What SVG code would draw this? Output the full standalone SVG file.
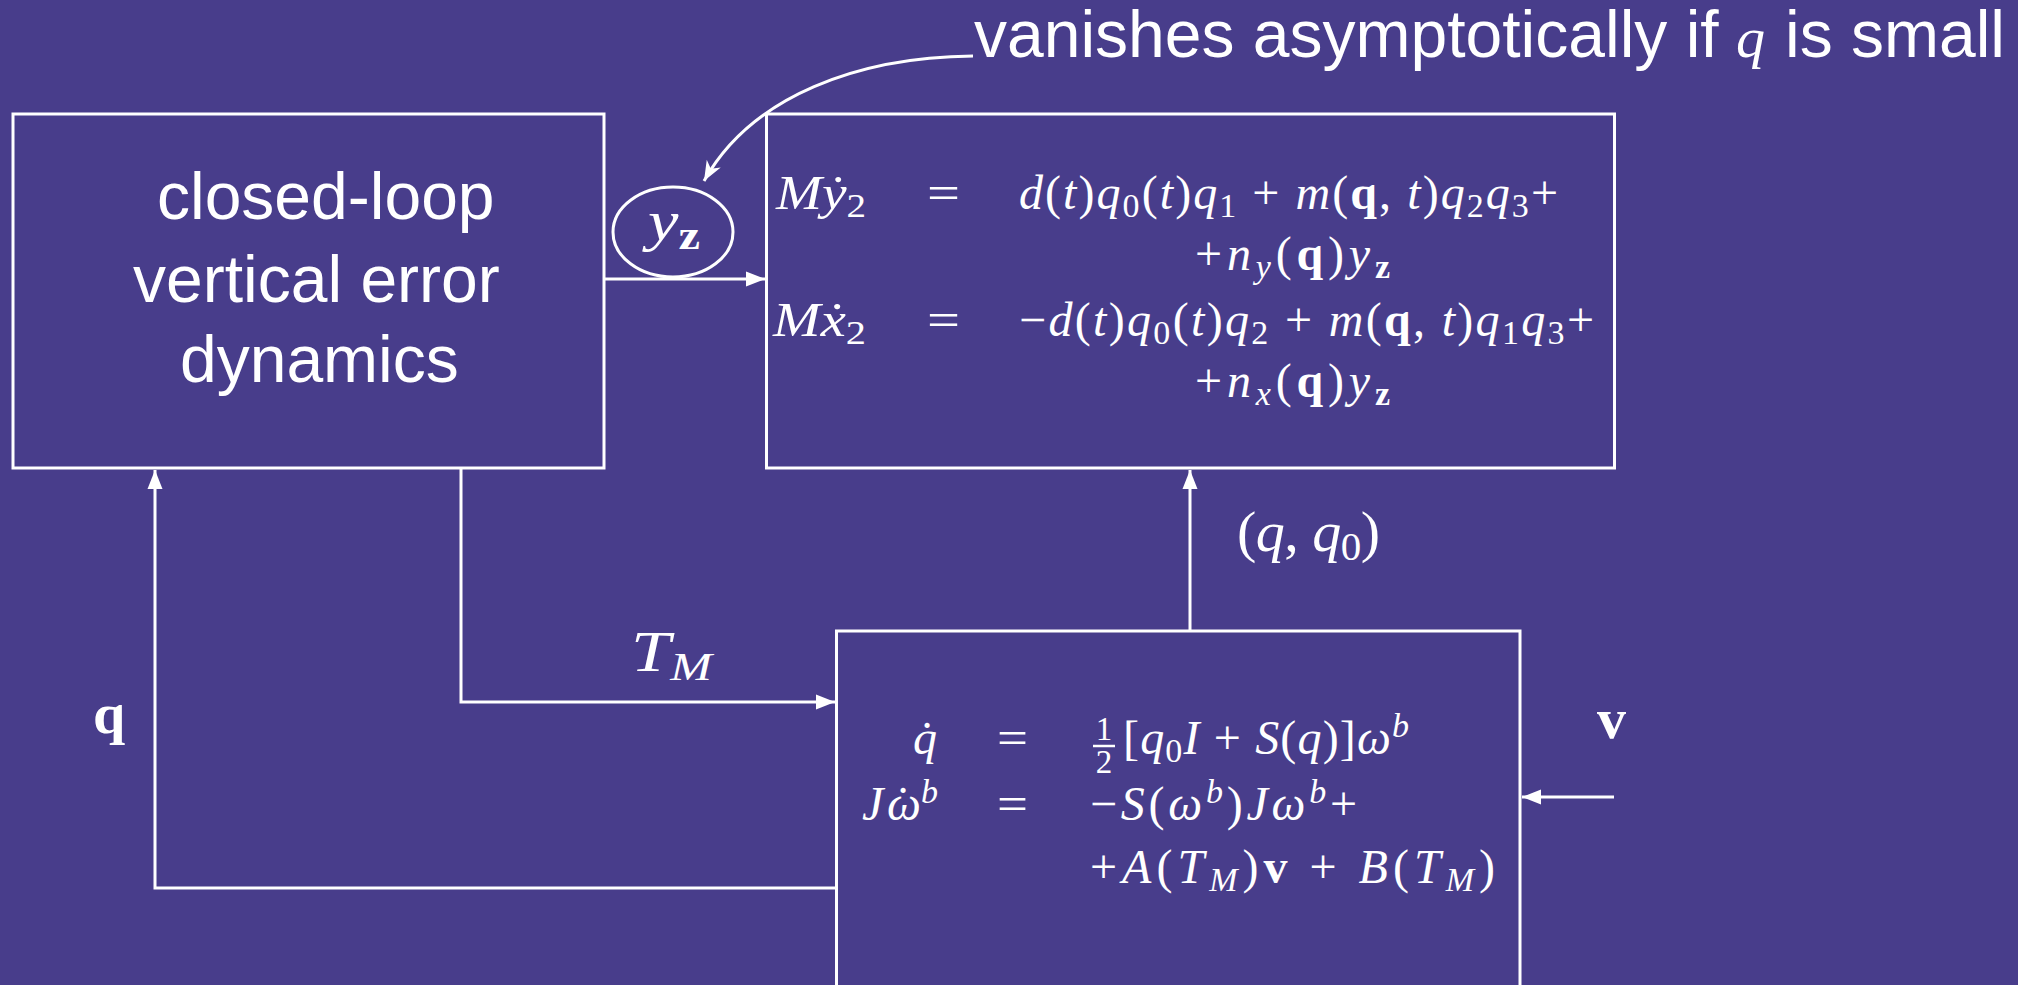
<svg xmlns="http://www.w3.org/2000/svg" width="2018" height="985" viewBox="0 0 2018 985">
<style>
.box{fill:none;stroke:#fff;stroke-width:3}
.ln{fill:none;stroke:#fff;stroke-width:3}
.sans{font-family:"Liberation Sans",Arial,sans-serif;font-size:66px;fill:#fff}
.m{font-family:"Liberation Serif","DejaVu Serif",serif;font-size:48px;fill:#fff}
.L{font-size:58px}
.i{font-style:italic}
.n{font-style:normal}
.b{font-weight:bold}
.s{font-size:34px}
.sL{font-size:41px}
.fr{font-size:33px}
</style>
<defs>
<marker id="arr" markerUnits="userSpaceOnUse" markerWidth="20" markerHeight="16" refX="19" refY="8" orient="auto">
<path d="M0,0.5 L19,8 L0,15.5 Z" fill="#fff"/>
</marker>
<marker id="arrc" markerUnits="userSpaceOnUse" markerWidth="22" markerHeight="18" refX="20" refY="9" orient="auto">
<path d="M0,1 L20,9 L0,17 L6,9 Z" fill="#fff"/>
</marker>
</defs>
<rect x="0" y="0" width="2018" height="985" fill="#483D8B"/>

<g id="node-closed-loop">
<rect class="box" x="13" y="114" width="591" height="354"/>
<text class="sans" x="157" y="219">closed-loop</text>
<text class="sans" x="133" y="302">vertical error</text>
<text class="sans" x="180" y="382">dynamics</text>
</g>

<g id="node-yz">
<ellipse class="box" cx="673" cy="232" rx="60" ry="45"/>
<text class="m L" x="648" y="240" textLength="52" lengthAdjust="spacingAndGlyphs"><tspan class="i">y</tspan><tspan class="b sL" dy="9">z</tspan></text>
</g>

<g id="node-top-eq">
<rect class="box" x="766.5" y="114" width="848" height="354"/>
<text class="m" x="776" y="209" textLength="90" lengthAdjust="spacingAndGlyphs"><tspan class="i">Mẏ</tspan><tspan class="s" dy="8">2</tspan></text>
<text class="m" x="927" y="209" textLength="33" lengthAdjust="spacingAndGlyphs">=</text>
<text class="m" x="1019" y="209" textLength="539"><tspan class="i">d</tspan>(<tspan class="i">t</tspan>)<tspan class="i">q</tspan><tspan class="s" dy="8">0</tspan><tspan dy="-8">(</tspan><tspan class="i">t</tspan>)<tspan class="i">q</tspan><tspan class="s" dy="8">1</tspan><tspan dy="-8"> + </tspan><tspan class="i">m</tspan>(<tspan class="b">q</tspan>, <tspan class="i">t</tspan>)<tspan class="i">q</tspan><tspan class="s" dy="8">2</tspan><tspan class="i" dy="-8">q</tspan><tspan class="s" dy="8">3</tspan><tspan dy="-8">+</tspan></text>
<text class="m" x="1195" y="270" textLength="195">+<tspan class="i">n</tspan><tspan class="i s" dy="8">y</tspan><tspan dy="-8">(</tspan><tspan class="b">q</tspan>)<tspan class="i">y</tspan><tspan class="b s" dy="8">z</tspan></text>
<text class="m" x="773" y="336" textLength="93" lengthAdjust="spacingAndGlyphs"><tspan class="i">Mẋ</tspan><tspan class="s" dy="8">2</tspan></text>
<text class="m" x="927" y="336" textLength="33" lengthAdjust="spacingAndGlyphs">=</text>
<text class="m" x="1019" y="336" textLength="575">−<tspan class="i">d</tspan>(<tspan class="i">t</tspan>)<tspan class="i">q</tspan><tspan class="s" dy="8">0</tspan><tspan dy="-8">(</tspan><tspan class="i">t</tspan>)<tspan class="i">q</tspan><tspan class="s" dy="8">2</tspan><tspan dy="-8"> + </tspan><tspan class="i">m</tspan>(<tspan class="b">q</tspan>, <tspan class="i">t</tspan>)<tspan class="i">q</tspan><tspan class="s" dy="8">1</tspan><tspan class="i" dy="-8">q</tspan><tspan class="s" dy="8">3</tspan><tspan dy="-8">+</tspan></text>
<text class="m" x="1195" y="397" textLength="195">+<tspan class="i">n</tspan><tspan class="i s" dy="8">x</tspan><tspan dy="-8">(</tspan><tspan class="b">q</tspan>)<tspan class="i">y</tspan><tspan class="b s" dy="8">z</tspan></text>
</g>

<g id="node-bottom-eq">
<rect class="box" x="836.5" y="631" width="683.5" height="420"/>
<text class="m i" x="937" y="754" text-anchor="end">q̇</text>
<text class="m" x="997" y="754" textLength="31" lengthAdjust="spacingAndGlyphs">=</text>
<text class="m fr" x="1104" y="740" text-anchor="middle">1</text>
<line x1="1093" y1="746" x2="1115" y2="746" stroke="#fff" stroke-width="2.5"/>
<text class="m fr" x="1104" y="773" text-anchor="middle">2</text>
<text class="m" x="1123" y="754" textLength="286">[<tspan class="i">q</tspan><tspan class="s" dy="8">0</tspan><tspan class="i" dy="-8">I</tspan> + <tspan class="i">S</tspan>(<tspan class="i">q</tspan>)]<tspan class="i">ω</tspan><tspan class="i s" dy="-17">b</tspan></text>
<text class="m i" x="862" y="820">J<tspan x="887">ω</tspan><tspan class="n" x="895">˙</tspan><tspan class="s" x="921" dy="-17">b</tspan></text>
<text class="m" x="997" y="820" textLength="31" lengthAdjust="spacingAndGlyphs">=</text>
<text class="m" x="1090" y="820" textLength="267">−<tspan class="i">S</tspan>(<tspan class="i">ω</tspan><tspan class="i s" dy="-17">b</tspan><tspan dy="17">)</tspan><tspan class="i">Jω</tspan><tspan class="i s" dy="-17">b</tspan><tspan dy="17">+</tspan></text>
<text class="m" x="1090" y="883" textLength="405">+<tspan class="i">A</tspan>(<tspan class="i">T</tspan><tspan class="i s" dy="8">M</tspan><tspan dy="-8">)</tspan><tspan class="b">v</tspan> + <tspan class="i">B</tspan>(<tspan class="i">T</tspan><tspan class="i s" dy="8">M</tspan><tspan dy="-8">)</tspan></text>
</g>

<g id="connectors">
<path class="ln" d="M605 279 H765" marker-end="url(#arr)"/>
<path class="ln" d="M461 469 V702 H835" marker-end="url(#arr)"/>
<path class="ln" d="M838 888 H155 V470" marker-end="url(#arr)"/>
<path class="ln" d="M1190 630 V470" marker-end="url(#arr)"/>
<path class="ln" d="M1614 797 H1522" marker-end="url(#arr)"/>
<path class="ln" d="M973 56 C860 57 752 95 704 181" marker-end="url(#arrc)"/>
</g>

<g id="labels">
<text class="m L" x="631" y="671" textLength="81" lengthAdjust="spacingAndGlyphs"><tspan class="i">T</tspan><tspan class="i sL" dy="9">M</tspan></text>
<text class="m L" x="1237" y="551" textLength="143">(<tspan class="i">q</tspan>, <tspan class="i">q</tspan><tspan class="sL" dy="9">0</tspan><tspan dy="-9">)</tspan></text>
<text class="m L b" x="93" y="733">q</text>
<text class="m L b" x="1597" y="738">v</text>
</g>

<g id="note">
<text class="sans" x="974" y="57">vanishes asymptotically if</text>
<text class="m L i" x="1736" y="57">q</text>
<text class="sans" x="1785" y="57">is small</text>
</g>
</svg>
